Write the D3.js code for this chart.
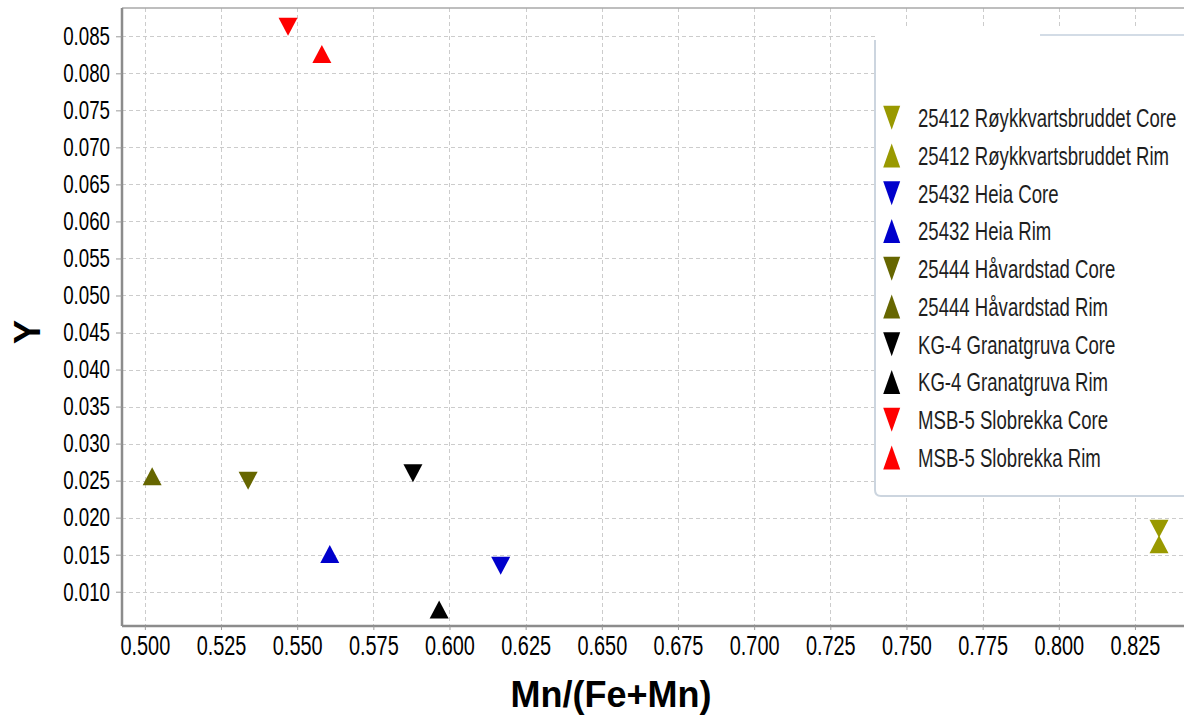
<!DOCTYPE html>
<html>
<head>
<meta charset="utf-8">
<script src="https://cdn.jsdelivr.net/npm/d3@7"></script>
<style>
  html, body { margin: 0; padding: 0; background: #fff; }
  svg { display: block; }
  text { font-family: "Liberation Sans", Arial, sans-serif; }
</style>
</head>
<body>
<svg id="chart" width="1184" height="717"></svg>
<script>
// ---- data -------------------------------------------------------------
const seriesNames = [
  "25412 Røykkvartsbruddet Core",
  "25412 Røykkvartsbruddet Rim",
  "25432 Heia Core",
  "25432 Heia Rim",
  "25444 Håvardstad Core",
  "25444 Håvardstad Rim",
  "KG-4 Granatgruva Core",
  "KG-4 Granatgruva Rim",
  "MSB-5 Slobrekka Core",
  "MSB-5 Slobrekka Rim"
];
const seriesColors = [
  "#999900", "#999900",
  "#0000cc", "#0000cc",
  "#666600", "#666600",
  "#000000", "#000000",
  "#ff0000", "#ff0000"
];
// "down" triangles mark cores, "up" triangles mark rims
const seriesShapes = ["down", "up", "down", "up", "down", "up", "down", "up", "down", "up"];
const mnRatio = [0.8329, 0.8329, 0.6168, 0.5607, 0.5339, 0.5024, 0.5880, 0.5966, 0.5470, 0.5581];
const yValue  = [0.0185, 0.0164, 0.0135, 0.0151, 0.0250, 0.0256, 0.0260, 0.0076, 0.0863, 0.0826];

const xTickValues = [0.500, 0.525, 0.550, 0.575, 0.600, 0.625, 0.650, 0.675,
                     0.700, 0.725, 0.750, 0.775, 0.800, 0.825];
const yTickValues = [0.010, 0.015, 0.020, 0.025, 0.030, 0.035, 0.040, 0.045,
                     0.050, 0.055, 0.060, 0.065, 0.070, 0.075, 0.080, 0.085];

const xDomain = [0.4925, 0.8411];
const yDomain = [0.00537, 0.08882];

const xTitle = "Mn/(Fe+Mn)";
const yTitle = "Y";

// ---- layout -------------------------------------------------------------
const plot = { left: 122, right: 1184, top: 8, bottom: 626 };

const svg = d3.select("#chart");
const x = d3.scaleLinear().domain(xDomain).range([plot.left, plot.right]);
const y = d3.scaleLinear().domain(yDomain).range([plot.bottom, plot.top]);
const fmt = d3.format(".3f");

// compress glyphs horizontally (condensed face look)
function squeeze(sel, f) {
  sel.each(function () {
    const w = this.getComputedTextLength();
    this.setAttribute("textLength", (w * f).toFixed(2));
    this.setAttribute("lengthAdjust", "spacingAndGlyphs");
  });
}

// gridlines
const grid = svg.append("g").attr("class", "grid")
  .attr("stroke", "#cccccc").attr("stroke-width", 1).attr("stroke-dasharray", "4,3");
grid.selectAll("line.v").data(xTickValues).join("line").attr("class", "v")
  .attr("x1", d => Math.round(x(d)) + 0.5).attr("x2", d => Math.round(x(d)) + 0.5)
  .attr("y1", plot.top).attr("y2", plot.bottom);
grid.selectAll("line.h").data(yTickValues).join("line").attr("class", "h")
  .attr("x1", plot.left).attr("x2", plot.right)
  .attr("y1", d => Math.round(y(d)) + 0.5).attr("y2", d => Math.round(y(d)) + 0.5);

// frame top edge
svg.append("line")
  .attr("x1", plot.left).attr("x2", plot.right)
  .attr("y1", plot.top).attr("y2", plot.top)
  .attr("stroke", "#a8a8a8").attr("stroke-width", 1.5);

// axes
const xAxis = svg.append("g")
  .attr("transform", `translate(0,${plot.bottom})`)
  .call(d3.axisBottom(x).tickValues(xTickValues).tickFormat(fmt).tickSize(4).tickPadding(5));
const yAxis = svg.append("g")
  .attr("transform", `translate(${plot.left},0)`)
  .call(d3.axisLeft(y).tickValues(yTickValues).tickFormat(fmt).tickSize(6).tickPadding(6));

[xAxis, yAxis].forEach(a => {
  a.select(".domain").attr("stroke", "#8c8c8c").attr("stroke-width", 2.5);
  a.selectAll(".tick line").attr("stroke", "#9a9a9a");
  a.selectAll(".tick text").attr("fill", "#000").attr("font-family", "'Liberation Sans', Arial, sans-serif");
});
xAxis.select(".domain").attr("d", `M${plot.left},0H${plot.right + 10}`);
yAxis.select(".domain").attr("d", `M0,${plot.top}V${plot.bottom}`);
xAxis.selectAll(".tick text").attr("font-size", 28);
yAxis.selectAll(".tick text").attr("font-size", 26);
squeeze(xAxis.selectAll(".tick text"), 0.71);
squeeze(yAxis.selectAll(".tick text"), 0.72);

// axis titles
svg.append("text")
  .attr("x", 611).attr("y", 707)
  .attr("text-anchor", "middle")
  .attr("font-size", 36).attr("font-weight", "bold").attr("fill", "#000")
  .text(xTitle);
svg.append("text")
  .attr("transform", "translate(40,332) rotate(-90)")
  .attr("text-anchor", "middle")
  .attr("font-size", 36).attr("font-weight", "bold").attr("fill", "#000")
  .text(yTitle);

// triangle marker path centred on (0,0)
function triangle(dir, w, h) {
  const hw = w / 2, hh = h / 2;
  return dir === "up"
    ? `M0,${-hh}L${hw},${hh}L${-hw},${hh}Z`
    : `M${-hw},${-hh}L${hw},${-hh}L0,${hh}Z`;
}

// data points
const points = seriesNames.map((name, i) => ({
  name, color: seriesColors[i], shape: seriesShapes[i], mx: mnRatio[i], my: yValue[i]
}));
svg.append("g").attr("class", "points")
  .selectAll("path").data(points).join("path")
  .attr("transform", d => `translate(${x(d.mx)},${y(d.my)})`)
  .attr("d", d => triangle(d.shape, 19, 18))
  .attr("fill", d => d.color);

// legend
const lg = svg.append("g").attr("class", "legend");
lg.append("rect")
  .attr("x", 875).attr("y", 28).attr("width", 320).attr("height", 468)
  .attr("fill", "#fff");
lg.append("path")
  .attr("d", "M875,40V490Q875,496 881,496H1190")
  .attr("fill", "none").attr("stroke", "#ccd5df").attr("stroke-width", 2);
lg.append("line")
  .attr("x1", 1040).attr("x2", 1190).attr("y1", 35).attr("y2", 35)
  .attr("stroke", "#d3dce6").attr("stroke-width", 2);

const item = lg.selectAll("g.item").data(points).join("g")
  .attr("class", "item")
  .attr("transform", (d, i) => `translate(0,${117.7 + i * 37.75})`);
item.append("path")
  .attr("transform", "translate(891.7,0)")
  .attr("d", d => triangle(d.shape, 17, 24))
  .attr("fill", d => d.color);
// labels set in a horizontally condensed frame
item.append("g")
  .attr("transform", "translate(918,9.5) scale(0.715,1)")
  .append("text")
  .attr("x", 0).attr("y", 0)
  .attr("font-size", 26).attr("fill", "#1e1e1e")
  .text(d => d.name);
</script>
</body>
</html>
